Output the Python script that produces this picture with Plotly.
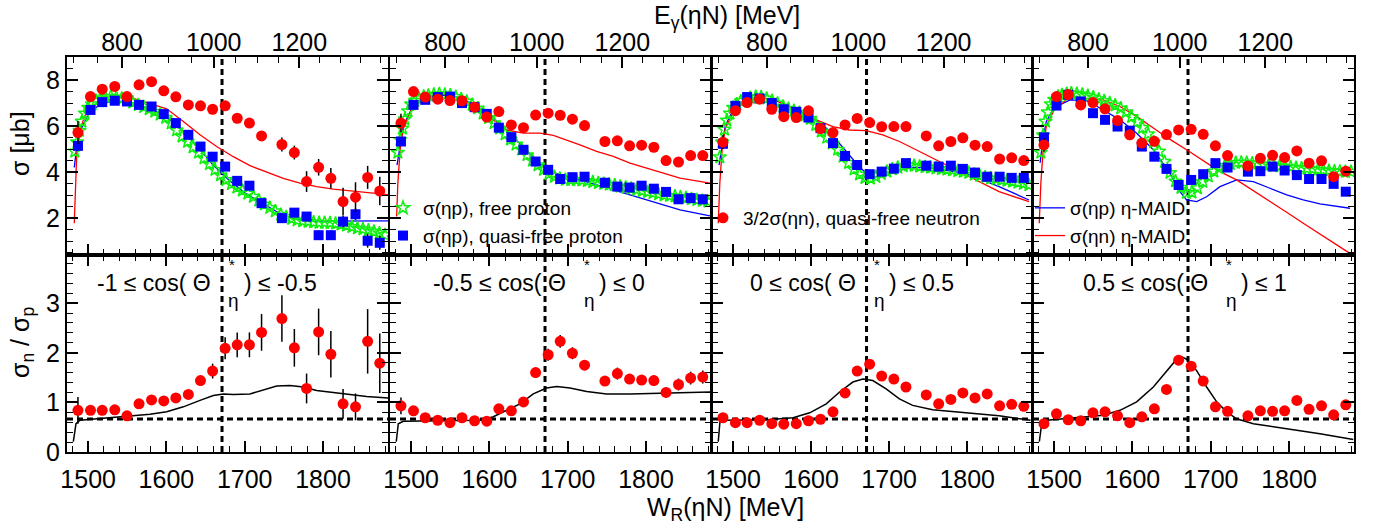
import numpy as np
import plotly.graph_objects as go

# ---------------- data ----------------
W_BINS = [1487, 1503, 1518, 1534, 1549.6, 1565, 1581, 1596.6, 1612, 1628, 1643.5, 1659,
          1675, 1690.4, 1706, 1721.5, 1747.5, 1763.4, 1779, 1794.4, 1810, 1825.6, 1841.5,
          1857, 1872.5]

# 3/2 sigma(eta n), quasi-free neutron (top row)
SN = [
    [5.72, 7.28, 7.60, 7.72, 7.28, 7.79, 7.93, 7.53, 7.27, 6.92, 6.88, 6.73, 6.88, 6.34, 6.13,
     5.57, 5.20, 4.85, 3.59, 4.21, 3.73, 2.72, 2.91, 3.77, 3.18],
    [6.13, 7.50, 7.26, 7.17, 7.11, 7.10, 6.82, 6.39, 6.63, 6.05, 5.93, 6.48, 6.56, 6.47, 6.30,
     6.02, 5.33, 5.36, 5.14, 5.17, 5.08, 4.50, 4.44, 4.72, 4.72],
    [5.30, 6.67, 7.02, 7.17, 6.73, 6.41, 6.37, 6.66, 5.89, 5.72, 6.05, 6.33, 6.15, 5.97, 5.98,
     5.98, 5.57, 5.14, 5.33, 5.49, 5.17, 5.11, 4.57, 4.62, 4.50],
    [5.18, 7.28, 7.37, 6.92, 7.02, 6.75, 6.24, 5.62, 5.26, 5.34, 5.63, 5.83, 5.86, 5.64, 5.14,
     4.72, 4.27, 4.60, 4.73, 4.63, 4.92, 4.39, 4.49, 3.80, 4.04],
]
SN_ERR = [
    [0.5, 0.15, 0.12, 0.12, 0.12, 0.12, 0.12, 0.12, 0.12, 0.12, 0.12, 0.12, 0.15, 0.18, 0.2,
     0.22, 0.3, 0.3, 0.45, 0.36, 0.45, 0.6, 0.65, 0.5, 0.62],
    [0.4, 0.12, 0.1, 0.1, 0.1, 0.1, 0.1, 0.1, 0.1, 0.1, 0.1, 0.1, 0.1, 0.1, 0.1,
     0.1, 0.12, 0.12, 0.12, 0.12, 0.12, 0.15, 0.15, 0.15, 0.15],
    [0.3, 0.1, 0.1, 0.1, 0.1, 0.1, 0.1, 0.1, 0.1, 0.1, 0.1, 0.1, 0.1, 0.1, 0.1,
     0.1, 0.1, 0.1, 0.1, 0.1, 0.1, 0.1, 0.12, 0.12, 0.12],
    [0.3, 0.1, 0.1, 0.1, 0.1, 0.1, 0.1, 0.1, 0.1, 0.1, 0.1, 0.1, 0.1, 0.1, 0.1,
     0.1, 0.12, 0.12, 0.12, 0.12, 0.12, 0.12, 0.15, 0.15, 0.15],
]
# sigma(eta p), quasi-free proton (top row)
SP = [
    [5.14, 6.70, 7.04, 7.10, 7.07, 6.92, 6.85, 6.52, 6.13, 5.62, 5.11, 4.67, 4.24, 3.62, 3.41,
     2.65, 2.00, 2.24, 2.07, 1.26, 1.26, 1.85, 2.17, 1.02, 0.93],
    [5.33, 6.92, 7.14, 7.26, 7.28, 7.00, 6.82, 6.53, 5.93, 5.52, 4.97, 4.46, 4.10, 3.70, 3.78,
     3.80, 3.54, 3.37, 3.33, 3.41, 3.28, 3.14, 2.82, 2.87, 2.82],
    [5.23, 6.88, 7.26, 7.20, 7.00, 6.73, 6.62, 6.37, 5.91, 5.26, 4.70, 4.31, 3.91, 4.02, 4.15,
     4.39, 4.28, 4.24, 4.28, 4.14, 3.98, 3.80, 3.80, 3.75, 3.75],
    [5.51, 6.89, 7.36, 7.07, 6.56, 6.27, 5.98, 5.80, 5.11, 4.67, 4.14, 3.44, 3.66, 3.91, 4.39,
     4.20, 4.02, 4.04, 4.24, 4.07, 3.87, 3.70, 3.70, 3.49, 3.15],
]
SP_ERR = [
    [0.2, 0.08, 0.08, 0.08, 0.08, 0.08, 0.08, 0.08, 0.08, 0.08, 0.08, 0.08, 0.1, 0.1, 0.1,
     0.12, 0.15, 0.15, 0.15, 0.2, 0.2, 0.25, 0.25, 0.3, 0.3],
    [0.15] + [0.07] * 24,
    [0.15] + [0.07] * 24,
    [0.15] + [0.07] * 24,
]

# sigma(eta p), free proton (dense band, top row)
GW = [1483, 1486, 1489, 1492, 1496, 1500, 1505, 1510, 1516, 1522, 1529, 1536, 1543, 1550,
      1557, 1564, 1571, 1578, 1585, 1592, 1599, 1606, 1613, 1620, 1627, 1634, 1641, 1648,
      1655, 1662, 1669, 1676, 1683, 1690, 1697, 1704, 1711, 1718, 1725, 1732, 1739, 1746,
      1753, 1760, 1767, 1774, 1781, 1788, 1795, 1802, 1809, 1816, 1823, 1830, 1837, 1844,
      1851, 1858, 1865, 1872, 1879]
GV = [
    [4.9, 5.3, 5.8, 6.2, 6.55, 6.8, 6.95, 7.1, 7.2, 7.27, 7.28, 7.24, 7.2, 7.13, 7.03, 6.92,
     6.83, 6.73, 6.63, 6.5, 6.36, 6.12, 5.82, 5.55, 5.32, 5.08, 4.85, 4.6, 4.35, 4.1, 3.87,
     3.66, 3.48, 3.33, 3.2, 3.07, 2.93, 2.77, 2.6, 2.45, 2.3, 2.15, 2.05, 1.97, 1.91, 1.87,
     1.85, 1.82, 1.8, 1.8, 1.79, 1.77, 1.73, 1.68, 1.62, 1.56, 1.52, 1.48, 1.42, 1.35, 1.27],
    [4.85, 5.4, 5.9, 6.3, 6.65, 6.95, 7.1, 7.2, 7.28, 7.33, 7.37, 7.39, 7.37, 7.34, 7.27,
     7.18, 7.07, 6.93, 6.77, 6.55, 6.35, 6.13, 5.9, 5.65, 5.42, 5.2, 4.98, 4.74, 4.5, 4.3,
     4.1, 3.92, 3.8, 3.72, 3.67, 3.66, 3.66, 3.65, 3.62, 3.57, 3.53, 3.5, 3.46, 3.43, 3.38,
     3.33, 3.29, 3.24, 3.18, 3.14, 3.09, 3.04, 3.0, 2.97, 2.95, 2.92, 2.88, 2.83, 2.79, 2.76,
     2.73],
    [4.65, 5.3, 5.85, 6.25, 6.55, 6.8, 6.95, 7.08, 7.17, 7.23, 7.27, 7.26, 7.2, 7.1, 6.98,
     6.85, 6.75, 6.67, 6.58, 6.46, 6.32, 6.05, 5.77, 5.5, 5.25, 4.98, 4.68, 4.4, 4.12, 3.9,
     3.75, 3.72, 3.8, 3.93, 4.03, 4.12, 4.2, 4.26, 4.3, 4.28, 4.25, 4.22, 4.2, 4.17, 4.14,
     4.11, 4.08, 4.05, 4.02, 3.97, 3.9, 3.84, 3.78, 3.73, 3.7, 3.66, 3.63, 3.59, 3.55, 3.5,
     3.44],
    [4.85, 5.6, 6.2, 6.6, 6.95, 7.15, 7.28, 7.35, 7.4, 7.43, 7.41, 7.37, 7.32, 7.25, 7.17,
     7.09, 7.0, 6.9, 6.77, 6.6, 6.4, 6.18, 5.93, 5.65, 5.3, 4.9, 4.45, 3.97, 3.6, 3.32, 3.1,
     3.12, 3.3, 3.58, 3.82, 4.03, 4.17, 4.27, 4.35, 4.41, 4.42, 4.41, 4.39, 4.37, 4.34, 4.31,
     4.28, 4.26, 4.24, 4.22, 4.19, 4.17, 4.15, 4.13, 4.11, 4.09, 4.06, 4.04, 4.03, 4.02,
     4.02],
]

# eta-MAID sigma(eta p) (blue) and sigma(eta n) (red)
MP_W = [
    [1482.3, 1485, 1490, 1500, 1515, 1535, 1555, 1580, 1600, 1620, 1640, 1660, 1680, 1700,
     1720, 1740, 1760, 1780, 1800, 1840, 1883.4],
    [1482, 1486, 1490, 1500, 1515, 1535, 1555, 1580, 1600, 1620, 1640, 1660, 1675, 1681.6,
     1715.6, 1736.9, 1758.2, 1779.5, 1800.8, 1822, 1843.4, 1881.7],
    [1482, 1486, 1490, 1500, 1515, 1535, 1555, 1580, 1600, 1620, 1640, 1660, 1675, 1690,
     1710, 1730, 1750, 1770, 1798.2, 1840.8, 1879.1],
    [1482, 1486, 1490, 1500, 1520.3, 1541.5, 1562.8, 1584.1, 1605.4, 1626.7, 1648, 1660.7,
     1669.2, 1682, 1694.8, 1711.8, 1733.1, 1754.4, 1775.7, 1797, 1818.2, 1839.5, 1877.8],
]
MP_V = [
    [4.2, 5.0, 5.8, 6.5, 6.95, 7.1, 7.0, 6.75, 6.4, 5.8, 5.1, 4.3, 3.65, 3.1, 2.7, 2.3, 2.0,
     1.88, 1.87, 1.88, 1.88],
    [4.3, 5.2, 6.0, 6.7, 7.15, 7.35, 7.3, 6.95, 6.5, 5.9, 5.2, 4.5, 4.05, 3.98, 3.66, 3.44,
     3.23, 3.01, 2.79, 2.57, 2.36, 2.10],
    [4.3, 5.2, 6.0, 6.7, 7.1, 7.25, 7.1, 6.75, 6.4, 5.9, 5.1, 4.3, 3.8, 3.8, 4.05, 4.2, 4.2,
     4.1, 3.95, 3.37, 2.79],
    [4.4, 5.5, 6.2, 6.8, 7.14, 7.1, 6.7, 6.27, 5.69, 4.97, 3.95, 3.15, 2.79, 2.72, 2.93, 3.37,
     3.66, 3.59, 3.30, 3.01, 2.79, 2.62, 2.43],
]
MN_W = [
    [1482.3, 1485.4, 1489.6, 1495, 1505, 1520, 1540, 1557.7, 1579, 1600.3, 1621.6, 1642.9,
     1664.1, 1685.4, 1706.7, 1728, 1749.3, 1770.6, 1791.8, 1813.1, 1834.4, 1855.7, 1883.4],
    [1481.5, 1483, 1486, 1490, 1500, 1515, 1535, 1555, 1580, 1600, 1622, 1643.3, 1664.6,
     1681.6, 1698.6, 1715.6, 1736.9, 1758.2, 1779.5, 1800.8, 1822, 1843.4, 1881.7],
    [1481, 1483, 1486, 1490, 1500, 1515, 1535, 1555, 1575, 1585.4, 1606.7, 1628, 1649.2,
     1670.5, 1691.8, 1713.1, 1734.4, 1755.7, 1777, 1798.2, 1819.5, 1840.8, 1879.1],
    [1481, 1483, 1486, 1490, 1500, 1520.3, 1541.5, 1562.8, 1584.1, 1605.4, 1626.7, 1648,
     1669.2, 1690.5, 1711.8, 1733.1, 1754.4, 1775.7, 1797, 1818.2, 1839.5, 1860.8, 1877.8],
]
MN_V = [
    [1.78, 4.75, 5.76, 6.4, 6.85, 7.1, 7.25, 7.2, 6.97, 6.75, 6.2, 5.62, 5.11, 4.67, 4.28,
     3.99, 3.73, 3.52, 3.37, 3.26, 3.18, 3.11, 3.02],
    [2.07, 3.5, 5.0, 5.9, 6.7, 7.2, 7.4, 7.3, 6.9, 6.4, 5.83, 5.69, 5.69, 5.6, 5.4, 5.18,
     4.9, 4.68, 4.39, 4.17, 3.96, 3.74, 3.52],
    [1.78, 3.5, 5.0, 5.9, 6.6, 7.05, 7.25, 7.1, 6.8, 6.6, 6.27, 5.98, 5.83, 5.8, 5.62, 5.33,
     4.97, 4.6, 4.24, 3.88, 3.51, 3.15, 2.72],
    [1.78, 3.5, 5.0, 6.0, 6.7, 7.28, 7.2, 7.14, 6.85, 6.42, 5.92, 5.42, 4.97, 4.48, 4.02,
     3.66, 3.20, 2.72, 2.26, 1.78, 1.31, 0.83, 0.47],
]

# ratio sigma_n / sigma_p (bottom row)
RQ = [
    [0.84, 0.84, 0.84, 0.85, 0.73, 0.97, 1.05, 1.03, 1.09, 1.16, 1.44, 1.63, 2.09, 2.16, 2.16,
     2.41, 2.69, 2.10, 1.28, 2.42, 1.97, 0.97, 0.91, 2.23, 1.79],
    [0.93, 0.83, 0.69, 0.64, 0.59, 0.69, 0.63, 0.62, 0.87, 0.83, 1.01, 1.60, 1.96, 2.23, 1.99,
     1.75, 1.43, 1.58, 1.47, 1.45, 1.44, 1.20, 1.36, 1.49, 1.51],
    [0.69, 0.59, 0.59, 0.64, 0.57, 0.56, 0.57, 0.63, 0.66, 0.81, 1.19, 1.63, 1.77, 1.53, 1.47,
     1.31, 1.15, 0.97, 1.06, 1.19, 1.09, 1.17, 0.93, 0.96, 0.92],
    [0.57, 0.77, 0.65, 0.63, 0.79, 0.81, 0.73, 0.59, 0.71, 0.87, 1.26, 1.85, 1.73, 1.43, 0.91,
     0.82, 0.73, 0.83, 0.82, 0.83, 1.04, 0.86, 0.93, 0.75, 0.95],
]
RQ_ERR = [
    [0.27, 0.07, 0.06, 0.06, 0.06, 0.06, 0.06, 0.06, 0.07, 0.09, 0.1, 0.15, 0.22, 0.25, 0.25,
     0.37, 0.47, 0.38, 0.3, 0.47, 0.47, 0.3, 0.27, 0.65, 0.6],
    [0.17, 0.07, 0.05, 0.05, 0.05, 0.05, 0.05, 0.05, 0.07, 0.07, 0.08, 0.1, 0.12, 0.13, 0.12,
     0.1, 0.1, 0.12, 0.1, 0.1, 0.1, 0.1, 0.12, 0.13, 0.13],
    [0.07] + [0.04] * 24,
    [0.08, 0.05, 0.05, 0.05, 0.05, 0.05, 0.05, 0.05, 0.05, 0.06, 0.08, 0.1, 0.08, 0.08, 0.06,
     0.05, 0.05, 0.05, 0.05, 0.05, 0.07, 0.06, 0.07, 0.06, 0.07],
]
# eta-MAID ratio (black line)
RM_W = [
    [1481.1, 1484.5, 1489.6, 1515.1, 1557.7, 1579, 1600.3, 1621.6, 1642.9, 1659.9, 1672.7,
     1685.4, 1706.7, 1723.7, 1740.8, 1757.8, 1774.8, 1791.8, 1813.1, 1834.4, 1855.7, 1883.4],
    [1481, 1483.6, 1490, 1524.1, 1588, 1605, 1622, 1639, 1656, 1673, 1685.9, 1702.9, 1724.2,
     1749.7, 1779.5, 1822, 1881.7],
    [1481, 1483.2, 1491.7, 1542.8, 1576.9, 1598.2, 1619.4, 1636.5, 1653.5, 1666.3, 1679,
     1696.1, 1713.1, 1730.1, 1755.7, 1798.2, 1840.8, 1881.2],
    [1481.1, 1484.1, 1490.5, 1520.3, 1562.8, 1584.1, 1605.4, 1626.7, 1643.7, 1656.5, 1662.9,
     1669.2, 1682, 1694.8, 1707.6, 1720.3, 1733.1, 1754.4, 1797, 1839.5, 1882.1],
]
RM_V = [
    [0.21, 0.57, 0.64, 0.67, 0.72, 0.76, 0.81, 0.91, 1.04, 1.14, 1.17, 1.16, 1.17, 1.25, 1.33,
     1.34, 1.31, 1.24, 1.20, 1.15, 1.12, 1.09],
    [0.21, 0.57, 0.62, 0.63, 0.64, 0.71, 0.84, 0.97, 1.17, 1.29, 1.32, 1.29, 1.22, 1.17, 1.17,
     1.19, 1.21],
    [0.21, 0.61, 0.64, 0.65, 0.69, 0.79, 0.97, 1.21, 1.41, 1.47, 1.44, 1.27, 1.07, 0.94, 0.85,
     0.79, 0.73, 0.64],
    [0.21, 0.57, 0.64, 0.68, 0.74, 0.84, 1.01, 1.31, 1.64, 1.87, 1.92, 1.87, 1.64, 1.31, 1.01,
     0.81, 0.67, 0.57, 0.47, 0.37, 0.25],
]

ANGLE_LEFT = ["-1 \u2264 cos( \u0398", "-0.5 \u2264 cos( \u0398", "0 \u2264 cos( \u0398",
              "0.5 \u2264 cos( \u0398"]
ANGLE_RIGHT = [") \u2264 -0.5", ") \u2264 0", ") \u2264 0.5", ") \u2264 1"]

W_TICKS = [1500, 1600, 1700, 1800]
EG_TICKS = [800, 1000, 1200]
EG_MINOR = list(range(700, 1450, 50))
SIG_TICKS = [2, 4, 6, 8]
RATIO_TICKS = [0, 1, 2, 3]
W_MARK = 1671          # vertical dashed line
RATIO_REF = 2.0 / 3.0  # horizontal dashed line

# ---------------- layout helpers ----------------
FW, FH = 1373, 528
M_N = 938.27
W_RANGE = [1473, 1883]
SIG_RANGE = [0.4, 9.0]
RATIO_RANGE = [0, 3.97]
PANEL_PX = [(67, 388), (390, 711), (712, 1032), (1033, 1354)]
TOP_DOM = [1 - 255 / FH, 1 - 57 / FH]
BOT_DOM = [1 - 452 / FH, 1 - 255 / FH]
FONT = "Liberation Sans, Arial, sans-serif"


def w_of_eg(e):
    return float(np.sqrt(M_N ** 2 + 2 * M_N * e))


def px(x):
    return x / FW


def py(y):
    return 1 - y / FH


RED, BLUE, GREEN = "#ff0000", "#0000ff", "#10f010"

fig = go.Figure()
layout = dict(template="none", width=FW, height=FH, margin=dict(l=0, r=0, t=0, b=0, pad=0),
              autosize=False,
              paper_bgcolor="white", plot_bgcolor="white", showlegend=True,
              font=dict(family=FONT, color="black"))

axis_base = dict(showline=True, linecolor="black", linewidth=2, ticks="inside",
                 tickcolor="black", tickwidth=1.5, ticklen=11, showgrid=False,
                 zeroline=False, automargin=False,
                 tickfont=dict(family=FONT, size=25, color="black"))


def sx(n):
    return "x" if n == 1 else f"x{n}"


def sy(n):
    return "y" if n == 1 else f"y{n}"


def ak(pre, n):
    return f"{pre}axis" if n == 1 else f"{pre}axis{n}"


for k in range(4):
    xt, xb, xe = k + 1, k + 5, k + 9
    yt, yb = k + 1, k + 5
    dom = [px(PANEL_PX[k][0]), px(PANEL_PX[k][1])]

    layout[ak("x", xt)] = dict(axis_base, domain=dom, anchor=sy(yt), range=W_RANGE,
                               tickvals=W_TICKS, showticklabels=False, mirror=True,
                               minor=dict(ticks="inside", ticklen=6, tickcolor="black",
                                          tickwidth=1, dtick=20, tick0=1500))
    layout[ak("x", xb)] = dict(axis_base, domain=dom, anchor=sy(yb), range=W_RANGE,
                               tickvals=W_TICKS, showticklabels=True, mirror="ticks",
                               ticklabelstandoff=4,
                               minor=dict(ticks="inside", ticklen=6, tickcolor="black",
                                          tickwidth=1, dtick=20, tick0=1500))
    layout[ak("x", xe)] = dict(axis_base, overlaying=sx(xt), anchor=sy(yt), side="top",
                               range=W_RANGE, showline=False,
                               tickvals=[w_of_eg(e) for e in EG_TICKS],
                               ticktext=[str(e) for e in EG_TICKS],
                               minor=dict(ticks="inside", ticklen=6, tickcolor="black",
                                          tickwidth=1,
                                          tickvals=[w_of_eg(e) for e in EG_MINOR]))
    layout[ak("y", yt)] = dict(axis_base, domain=TOP_DOM, anchor=sx(xt), range=SIG_RANGE,
                               tickvals=SIG_TICKS, showticklabels=(k == 0), mirror="ticks",
                               minor=dict(ticks="inside", ticklen=6, tickcolor="black",
                                          tickwidth=1, dtick=0.5, tick0=0))
    layout[ak("y", yb)] = dict(axis_base, domain=BOT_DOM, anchor=sx(xb), range=RATIO_RANGE,
                               tickvals=RATIO_TICKS, showticklabels=(k == 0), mirror="ticks",
                               minor=dict(ticks="inside", ticklen=6, tickcolor="black",
                                          tickwidth=1, dtick=0.2, tick0=0))

    err_style = dict(type="data", color="black", thickness=1.5, width=0)

    fig.add_trace(go.Scatter(x=MP_W[k], y=MP_V[k], mode="lines", line=dict(color=BLUE, width=1.3),
                             xaxis=sx(xt), yaxis=sy(yt), name="\u03c3(\u03b7p) \u03b7-MAID",
                             showlegend=(k == 3), legend="legend3"))
    fig.add_trace(go.Scatter(x=MN_W[k], y=MN_V[k], mode="lines", line=dict(color=RED, width=1.3),
                             xaxis=sx(xt), yaxis=sy(yt), name="\u03c3(\u03b7n) \u03b7-MAID",
                             showlegend=(k == 3), legend="legend3"))
    fig.add_trace(go.Scatter(x=GW, y=GV[k], mode="markers",
                             marker=dict(symbol="star-open", size=10, color=GREEN,
                                         line=dict(color=GREEN, width=1.5)),
                             xaxis=sx(xt), yaxis=sy(yt), name="\u03c3(\u03b7p), free proton",
                             showlegend=(k == 1), legend="legend"))
    fig.add_trace(go.Scatter(x=W_BINS, y=SP[k], mode="markers",
                             error_y=dict(err_style, array=SP_ERR[k]),
                             marker=dict(symbol="square", size=10, color=BLUE),
                             xaxis=sx(xt), yaxis=sy(yt),
                             name="\u03c3(\u03b7p), quasi-free proton",
                             showlegend=(k == 1), legend="legend"))
    fig.add_trace(go.Scatter(x=W_BINS, y=SN[k], mode="markers",
                             error_y=dict(err_style, array=SN_ERR[k]),
                             marker=dict(symbol="circle", size=11, color=RED),
                             xaxis=sx(xt), yaxis=sy(yt),
                             name="3/2\u03c3(\u03b7n), quasi-free neutron",
                             showlegend=(k == 2), legend="legend2"))
    fig.add_trace(go.Scatter(x=[W_RANGE[0]], y=[SIG_RANGE[0]], mode="markers",
                             marker=dict(opacity=0), xaxis=sx(xe), yaxis=sy(yt),
                             showlegend=False, hoverinfo="skip"))

    fig.add_trace(go.Scatter(x=RM_W[k], y=RM_V[k], mode="lines",
                             line=dict(color="black", width=1.5),
                             xaxis=sx(xb), yaxis=sy(yb), showlegend=False))
    fig.add_trace(go.Scatter(x=W_BINS, y=RQ[k], mode="markers",
                             error_y=dict(err_style, array=RQ_ERR[k]),
                             marker=dict(symbol="circle", size=11, color=RED),
                             xaxis=sx(xb), yaxis=sy(yb), showlegend=False))

    dash = dict(color="black", width=3, dash="6px,4px")
    fig.add_shape(type="line", xref=sx(xt), yref=f"{sy(yt)} domain",
                  x0=W_MARK, x1=W_MARK, y0=0, y1=1, line=dash, layer="below")
    fig.add_shape(type="line", xref=sx(xb), yref=f"{sy(yb)} domain",
                  x0=W_MARK, x1=W_MARK, y0=0, y1=1, line=dash, layer="below")
    fig.add_shape(type="line", xref=f"{sx(xb)} domain", yref=sy(yb), x0=0, x1=1,
                  y0=RATIO_REF, y1=RATIO_REF, line=dash, layer="below")

TH_RIGHT = [213, 568, 858, 1210]
ann = []
for k in range(4):
    t = TH_RIGHT[k]
    ann.append(dict(x=px(t), y=py(283), xref="paper", yref="paper", xanchor="right",
                    yanchor="middle", text=ANGLE_LEFT[k], showarrow=False,
                    font=dict(family=FONT, size=23, color="black")))
    ann.append(dict(x=px(t + 29), y=py(283), xref="paper", yref="paper", xanchor="left",
                    yanchor="middle", text=ANGLE_RIGHT[k], showarrow=False,
                    font=dict(family=FONT, size=23, color="black")))
    ann.append(dict(x=px(t + 19), y=py(264), xref="paper", yref="paper", xanchor="center",
                    yanchor="middle", text="*", showarrow=False,
                    font=dict(family=FONT, size=15, color="black")))
    ann.append(dict(x=px(t + 21), y=py(300), xref="paper", yref="paper", xanchor="center",
                    yanchor="middle", text="\u03b7", showarrow=False,
                    font=dict(family=FONT, size=19, color="black")))

ctr = dict(xref="paper", yref="paper", xanchor="center", yanchor="middle", showarrow=False,
           font=dict(family=FONT, size=25, color="black"))
ann += [
    dict(ctr, x=px(20), y=py(144), text="\u03c3 [\u03bcb]", textangle=-90),
    dict(ctr, x=px(22), y=py(343), text="\u03c3<sub>n</sub> / \u03c3<sub>p</sub>",
         textangle=-90),
    dict(ctr, x=px(725), y=py(509), text="W<sub>R</sub>(\u03b7N) [MeV]"),
    dict(ctr, x=px(727), y=py(17), text="E<sub>\u03b3</sub>(\u03b7N) [MeV]"),
]
layout["annotations"] = ann

leg_common = dict(bgcolor="rgba(0,0,0,0)", borderwidth=0, xanchor="left", yanchor="top",
                  font=dict(family=FONT, size=19, color="black"), itemwidth=30,
                  tracegroupgap=0, itemclick=False)
layout["legend"] = dict(leg_common, x=px(383), y=py(189))
layout["legend2"] = dict(leg_common, x=px(703), y=py(199))
layout["legend3"] = dict(leg_common, x=px(1030), y=py(189))

fig.update_layout(**layout)
fig.write_html("out.html", config={"displayModeBar": False},
               post_script="document.body.style.margin='0px';")
